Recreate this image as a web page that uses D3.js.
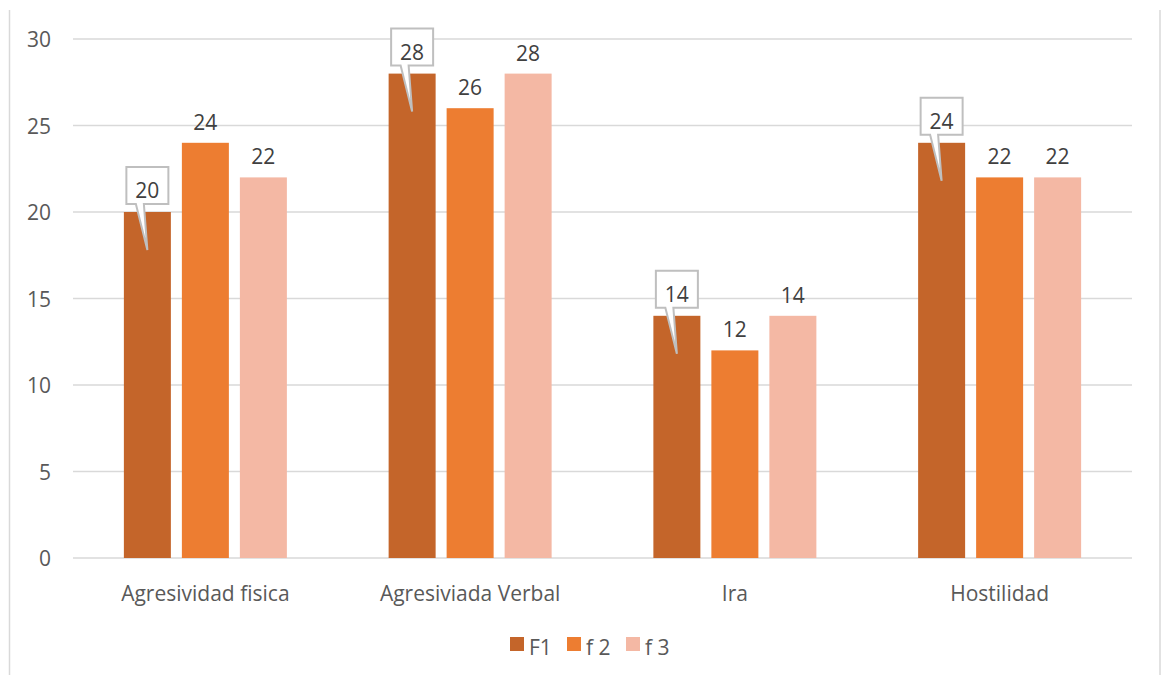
<!DOCTYPE html>
<html>
<head>
<meta charset="utf-8">
<script src="https://cdn.jsdelivr.net/npm/d3@7/dist/d3.min.js"></script>
<style>
  html, body { margin: 0; padding: 0; background: #fff; }
  svg { display: block; font-family: "Open Sans", Lato, sans-serif; font-variant-ligatures: none; }
</style>
</head>
<body>
<svg id="chart" width="1161" height="675"></svg>
<script>
// Data
const categories = ["Agresividad fisica", "Agresiviada Verbal", "Ira", "Hostilidad"];
const seriesNames = ["F1", "f 2", "f 3"];
const valuesF1 = [20, 28, 14, 24];
const valuesF2 = [24, 26, 12, 22];
const valuesF3 = [22, 28, 14, 22];
const yTicks = [0, 5, 10, 15, 20, 25, 30];
const colors = ["#C4652A", "#ED7D31", "#F4B8A4"];

const seriesValues = [valuesF1, valuesF2, valuesF3];
const FONT = "'Open Sans', Lato, sans-serif";
const AXIS_SIZE = 21;
const LABEL_SIZE = 21;

const svg = d3.select("#chart");
const W = 1161, H = 675;
const plot = { left: 73, right: 1132, top: 39, bottom: 558 };

// Outer chart frame (side edges)
svg.append("line").attr("x1", 9.5).attr("x2", 9.5).attr("y1", 10).attr("y2", H)
  .attr("stroke", "#D9D9D9").attr("stroke-width", 1.5);
svg.append("line").attr("x1", 1160).attr("x2", 1160).attr("y1", 10).attr("y2", H)
  .attr("stroke", "#D9D9D9").attr("stroke-width", 1.5);

const y = d3.scaleLinear().domain([0, 30]).range([plot.bottom, plot.top]);
const x0 = d3.scaleBand().domain(categories).range([plot.left, plot.right]).padding(0);
const groupWidth = 163;
const x1 = d3.scaleBand().domain(seriesNames).range([0, groupWidth]).paddingInner(11 / 58).paddingOuter(0);
const groupOffset = (x0.bandwidth() - groupWidth) / 2;

// Gridlines
svg.append("g").selectAll("line").data(yTicks).join("line")
  .attr("x1", plot.left).attr("x2", plot.right)
  .attr("y1", d => y(d)).attr("y2", d => y(d))
  .attr("stroke", "#D9D9D9").attr("stroke-width", 1.5);

// Y axis labels
const yAxis = d3.axisLeft(y).tickValues(yTicks).tickSize(0).tickPadding(0);
const yg = svg.append("g").attr("transform", `translate(51,1)`).call(yAxis);
yg.select(".domain").remove();
yg.selectAll("text").attr("font-size", AXIS_SIZE).attr("fill", "#595959")
  .attr("font-family", FONT);

// X axis labels
const xAxis = d3.axisBottom(x0).tickSize(0).tickPadding(0);
const xg = svg.append("g").attr("transform", `translate(0,${plot.bottom + 28})`).call(xAxis);
xg.select(".domain").remove();
xg.selectAll("text").attr("font-size", AXIS_SIZE).attr("fill", "#595959")
  .attr("font-family", FONT);

// Bars
const rows = [];
categories.forEach((c, ci) => {
  seriesNames.forEach((s, si) => {
    rows.push({ cat: c, series: s, si: si, value: seriesValues[si][ci] });
  });
});

const barX = d => x0(d.cat) + groupOffset + x1(d.series);

svg.append("g").selectAll("rect").data(rows).join("rect")
  .attr("x", barX)
  .attr("y", d => y(d.value))
  .attr("width", x1.bandwidth())
  .attr("height", d => y(0) - y(d.value))
  .attr("fill", d => colors[d.si]);

// Plain value labels for f 2 and f 3
svg.append("g").selectAll("text").data(rows.filter(d => d.si > 0)).join("text")
  .attr("x", d => barX(d) + x1.bandwidth() / 2)
  .attr("y", d => y(d.value) - 13)
  .attr("text-anchor", "middle")
  .attr("font-size", LABEL_SIZE).attr("fill", "#404040")
  .text(d => d.value);

// Callout labels for F1
const callouts = svg.append("g").selectAll("g").data(rows.filter(d => d.si === 0)).join("g");
callouts.each(function (d) {
  const g = d3.select(this);
  const cx = barX(d) + x1.bandwidth() / 2;
  const top = y(d.value);
  const bw = 42, bh = 37;
  const bx = cx - bw / 2, by = top - 8 - bh;
  const tipX = cx, tipY = top + 38;
  const path = `M${bx},${by} H${bx + bw} V${by + bh} H${cx - 3.5} L${tipX},${tipY} L${cx - 11.5},${by + bh} H${bx} Z`;
  g.append("path").attr("d", path)
    .attr("fill", "#FFFFFF").attr("stroke", "#BFBFBF").attr("stroke-width", 2)
    .attr("stroke-linejoin", "miter");
  g.append("text")
    .attr("x", cx).attr("y", top - 14)
    .attr("text-anchor", "middle")
    .attr("font-size", LABEL_SIZE).attr("fill", "#404040")
    .text(d.value);
});

// Legend
const legendItems = [
  { name: seriesNames[0], x: 510 },
  { name: seriesNames[1], x: 567 },
  { name: seriesNames[2], x: 626 }
];
const lg = svg.append("g").selectAll("g").data(legendItems).join("g")
  .attr("transform", d => `translate(${d.x},637)`);
lg.append("rect").attr("width", 14).attr("height", 14).attr("fill", (d, i) => colors[i]);
lg.append("text").attr("x", 19).attr("y", 18)
  .attr("font-size", AXIS_SIZE).attr("fill", "#595959")
  .text(d => d.name);
</script>
</body>
</html>
